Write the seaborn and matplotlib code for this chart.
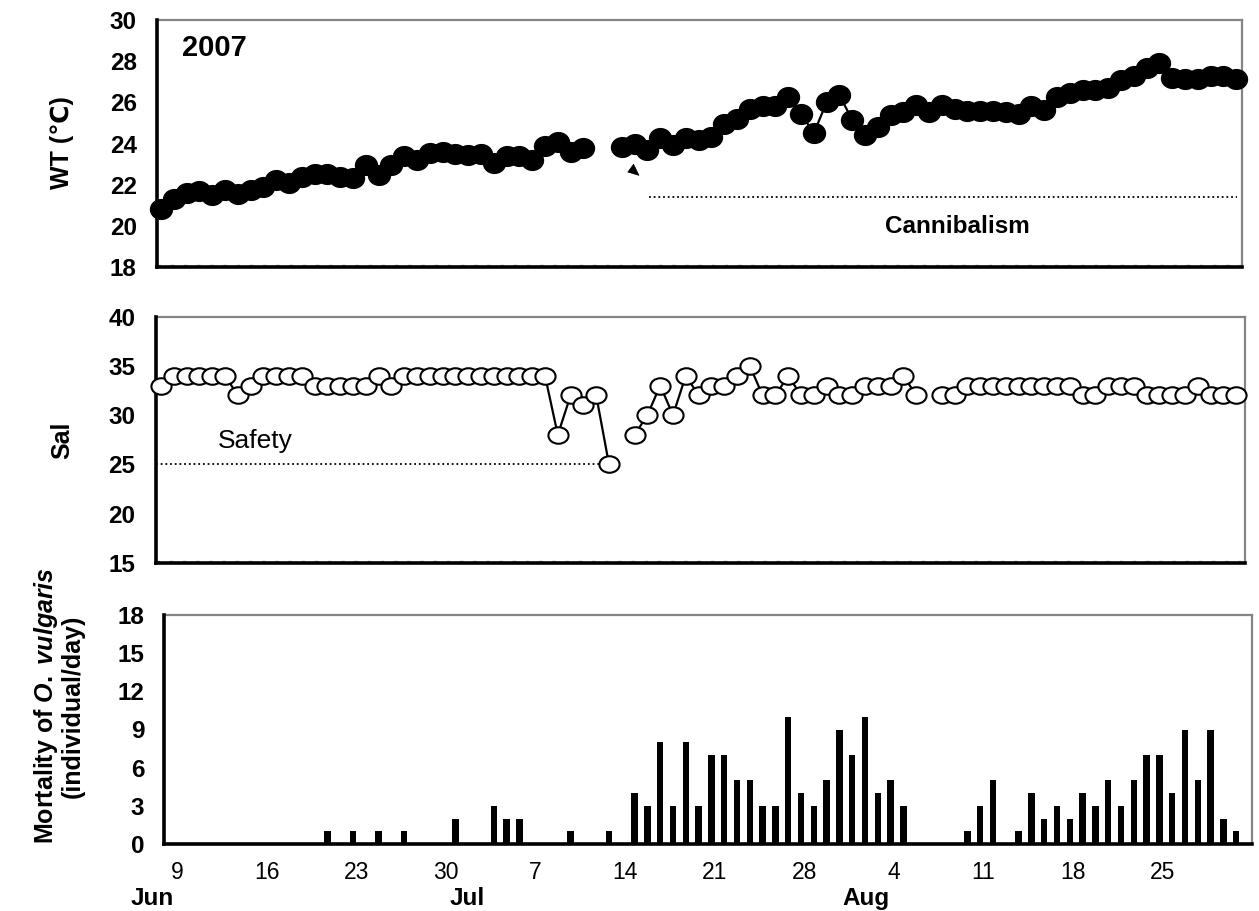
import numpy as np
import pandas as pd
import matplotlib
matplotlib.use("Agg")
import matplotlib.pyplot as plt
import matplotlib.transforms as mtransforms
from matplotlib.path import Path
from matplotlib.ticker import FixedLocator, FixedFormatter, NullFormatter
import seaborn as sns

# ---------------------------------------------------------------- data
dates = pd.date_range("2007-06-08", "2007-08-31", freq="D")

# water temperature (deg C), daily; NaN = no record
wt = [20.8, 21.3, 21.6, 21.7, 21.5, 21.75, 21.55, 21.75, 21.9, 22.25,
      22.1, 22.35, 22.5, 22.5, 22.35, 22.3, 22.95, 22.45, 22.95, 23.4,
      23.2, 23.55, 23.6, 23.5, 23.45, 23.5, 23.05, 23.4, 23.4, 23.2,
      23.9, 24.05, 23.6, 23.8, np.nan, np.nan, 23.85, 24.0, 23.7, 24.25,
      23.95, 24.25, 24.15, 24.3, 24.95, 25.2, 25.7, 25.8, 25.8, 26.25,
      25.45, 24.5, 26.0, 26.35, 25.15, 24.4, 24.8, 25.4, 25.55, 25.85,
      25.55, 25.85, 25.7, 25.6, 25.6, 25.6, 25.55, 25.45, 25.8, 25.65,
      26.25, 26.45, 26.6, 26.6, 26.7, 27.1, 27.3, 27.65, 27.9, 27.2,
      27.15, 27.15, 27.3, 27.3, 27.15]

# salinity, daily
sal = [33, 34, 34, 34, 34, 34, 32, 33, 34, 34,
       34, 34, 33, 33, 33, 33, 33, 34, 33, 34,
       34, 34, 34, 34, 34, 34, 34, 34, 34, 34,
       34, 28, 32, 31, 32, 25, np.nan, 28, 30, 33,
       30, 34, 32, 33, 33, 34, 35, 32, 32, 34,
       32, 32, 33, 32, 32, 33, 33, 33, 34, 32,
       np.nan, 32, 32, 33, 33, 33, 33, 33, 33, 33,
       33, 33, 32, 32, 33, 33, 33, 32, 32, 32,
       32, 33, 32, 32, 32]

# mortality of O. vulgaris (individual/day)
mortality = [0, 0, 0, 0, 0, 0, 0, 0, 0, 0,
             0, 0, 0, 1, 0, 1, 0, 1, 0, 1,
             0, 0, 0, 2, 0, 0, 3, 2, 2, 0,
             0, 0, 1, 0, 0, 1, 0, 4, 3, 8,
             3, 8, 3, 7, 7, 5, 5, 3, 3, 10,
             4, 3, 5, 9, 7, 10, 4, 5, 3, 0,
             0, 0, 0, 1, 3, 5, 0, 1, 4, 2,
             3, 2, 4, 3, 5, 3, 5, 7, 7, 4,
             9, 5, 9, 2, 1]

wt_ticks = [18, 20, 22, 24, 26, 28, 30]
sal_ticks = [15, 20, 25, 30, 35, 40]
mort_ticks = [0, 3, 6, 9, 12, 15, 18]

cannibalism_wt = 21.4
cannibalism_from = pd.Timestamp("2007-07-16")
safety_sal = 25
safety_until = pd.Timestamp("2007-07-12 16:00")

# ---------------------------------------------------------------- frames
day = (dates - dates[0]).days.to_numpy().astype(float)


def with_segments(values, name):
    v = pd.Series(values, dtype=float)
    seg = v.isna().cumsum()
    df = pd.DataFrame({"day": day, name: v, "seg": seg})
    return df.dropna()


df_wt = with_segments(wt, "wt")
df_sal = with_segments(sal, "sal")
df_mort = pd.DataFrame({"day": day, "mortality": mortality})

# ---------------------------------------------------------------- style
sns.set_theme(style="white")
FAM = ["Liberation Sans", "DejaVu Sans"]
plt.rcParams["font.family"] = FAM
plt.rcParams["text.color"] = "black"
plt.rcParams["axes.labelcolor"] = "black"
plt.rcParams["xtick.color"] = "black"
plt.rcParams["ytick.color"] = "black"
plt.rcParams["mathtext.fontset"] = "custom"
plt.rcParams["mathtext.it"] = "Liberation Sans:italic:bold"
plt.rcParams["mathtext.rm"] = "Liberation Sans:bold"

W, H = 1259, 911
fig = plt.figure(figsize=(W / 100, H / 100), dpi=100)


def axes_px(left, top, right, bottom):
    return fig.add_axes([left / W, 1 - bottom / H, (right - left) / W,
                         (bottom - top) / H])


ax1 = axes_px(157, 20, 1242, 267)
ax2 = axes_px(155.7, 316.5, 1245, 563)
ax3 = axes_px(164.3, 615, 1252, 844)

X0, DX = 161.0, 12.8   # pixel column of the first day, pixels per day


def xlim_px(ax, left, right):
    ax.set_xlim((left - X0) / DX, (right - X0) / DX)


xlim_px(ax1, 157, 1242)
xlim_px(ax2, 155.7, 1245)
xlim_px(ax3, 164.3, 1252)

# ellipse markers
uc = Path.unit_circle()
ell_wt = Path(uc.vertices * np.array([1.0, 0.9]), uc.codes)
ell_sal = Path(uc.vertices * np.array([1.0, 0.82]), uc.codes)

# ---------------------------------------------------------------- WT
sns.lineplot(data=df_wt, x="day", y="wt", units="seg", estimator=None,
             color="black", lw=1.6, marker=ell_wt, ms=15.8, mfc="black",
             mec="black", mew=1, clip_on=False, zorder=4, legend=False,
             ax=ax1)
ax1.set_ylim(18, 30)

# ---------------------------------------------------------------- Sal
sns.lineplot(data=df_sal, x="day", y="sal", units="seg", estimator=None,
             color="black", lw=1.6, marker=ell_sal, ms=14.5, mfc="white",
             mec="black", mew=1.5, clip_on=False, zorder=4, legend=False,
             ax=ax2)
ax2.set_ylim(15, 40)

# ---------------------------------------------------------------- bars
sns.barplot(data=df_mort, x="day", y="mortality", native_scale=True,
            color="black", saturation=1, width=0.5, linewidth=0,
            errorbar=None, ax=ax3)
ax3.set_ylim(0, 18)
xlim_px(ax3, 164.3, 1252)

# ---------------------------------------------------------------- axes cosmetics
for ax in (ax1, ax2, ax3):
    ax.set_xlabel("")
    ax.set_ylabel("")
    for s in ("left", "bottom"):
        ax.spines[s].set_color("black")
        ax.spines[s].set_linewidth(2.6)
        ax.spines[s].set_zorder(3)
    for s in ("top", "right"):
        ax.spines[s].set_color("#858585")
        ax.spines[s].set_linewidth(1.6)
    ax.tick_params(axis="y", which="both", direction="out", color="black",
                   labelcolor="black", width=2, length=8.5, labelsize=17.5,
                   pad=6)

# light dashed trace along the base of the two upper panels
for ax, ybase in ((ax1, 18), (ax2, 15)):
    off = mtransforms.offset_copy(ax.transData, fig=fig, x=0, y=2.2,
                                  units="dots")
    ax.plot(ax.get_xlim(), [ybase, ybase], color="#9a9a9a", lw=1.0,
            dashes=(2.5, 7), transform=off, zorder=2.8, clip_on=False)
    ax.set_xticks([])

# WT axis: labels every 2, tick marks every 3
ax1.yaxis.remove_overlapping_locs = False
ax1.yaxis.set_major_locator(FixedLocator(wt_ticks))
ax1.yaxis.set_major_formatter(FixedFormatter([str(t) for t in wt_ticks]))
ax1.yaxis.set_minor_locator(FixedLocator([18, 21, 24, 27, 30]))
ax1.yaxis.set_minor_formatter(NullFormatter())
ax1.tick_params(axis="y", which="major", length=0, pad=14.5)
ax1.tick_params(axis="y", which="minor", length=8.5, width=2)
for lab in ax1.get_yticklabels():
    lab.set_fontweight("bold")

ax2.set_yticks(sal_ticks)
ax2.set_yticklabels([str(t) for t in sal_ticks], fontweight="bold")
ax3.set_yticks(mort_ticks)
ax3.set_yticklabels([str(t) for t in mort_ticks], fontweight="bold")

# bottom date axis: a tick every day, a label every week
tick_off = (164.3 - X0) / DX
ax3.xaxis.remove_overlapping_locs = False
ax3.xaxis.set_minor_locator(
    FixedLocator((np.arange(len(day) + 1) + tick_off).tolist()))
ax3.xaxis.set_minor_formatter(NullFormatter())
week_idx = np.arange(1, len(day), 7)
ax3.xaxis.set_major_locator(FixedLocator((week_idx + tick_off).tolist()))
ax3.xaxis.set_major_formatter(
    FixedFormatter([str(dates[i].day) for i in week_idx]))
ax3.tick_params(axis="x", which="both", direction="out", color="black",
                labelcolor="black", width=2, length=7.5, labelsize=16.5,
                pad=5)

# month names under the day numbers
trans3 = mtransforms.blended_transform_factory(ax3.transData, ax3.transAxes)
for mname, first, shift in (("Jun", "2007-06-08", -0.7),
                            ("Jul", "2007-07-01", 0.9),
                            ("Aug", "2007-08-01", 1.1)):
    d = (pd.Timestamp(first) - dates[0]).days
    ax3.text(d + shift, -0.24, mname, transform=trans3, ha="center",
             va="center", fontsize=17.5, fontweight="bold", color="black")

# ---------------------------------------------------------------- annotations
cx = (cannibalism_from - dates[0]).days + 0.1
ax1.hlines(cannibalism_wt, cx, day[-1] + 0.1, colors="black", lw=1.3,
           linestyles=(0, (1, 1.6)))
ax1.text(0.738, 0.162, "Cannibalism", transform=ax1.transAxes, ha="center",
         va="center", fontsize=17.5, fontweight="bold", color="black")
ax1.text(0.0525, 0.885, "2007", transform=ax1.transAxes, ha="center",
         va="center", fontsize=21, fontweight="bold", color="black")

# small arrowhead marking the onset
head = Path([(0.1, 6.2), (-5.6, -1.5), (5.4, -4.8), (0.1, 6.2)],
            [Path.MOVETO, Path.LINETO, Path.LINETO, Path.CLOSEPOLY])
ax1.plot([(cannibalism_from - dates[0]).days - 1.1], [22.69], marker=head,
         ms=9, color="black", mec="black", mew=0.5, ls="none")

sx = (safety_until - dates[0]).days + (safety_until.hour / 24)
ax2.hlines(safety_sal, ax2.get_xlim()[0], sx, colors="black", lw=1.3,
           linestyles=(0, (1, 1.6)))
ax2.text(0.0912, 0.495, "Safety", transform=ax2.transAxes, ha="center",
         va="center", fontsize=19, color="black")

# ---------------------------------------------------------------- y labels
fig.text(62 / W, 1 - 143 / H, "WT (\u2103)", rotation=90, ha="center",
         va="center", fontsize=18, fontweight="bold", family=FAM,
         color="black")
fig.text(62 / W, 1 - 440 / H, "Sal", rotation=90, ha="center", va="center",
         fontsize=18, fontweight="bold", color="black")
fig.text(58 / W, 1 - 706 / H,
         "Mortality of $\\it{O.\\ vulgaris}$\n(individual/day)",
         rotation=90, ha="center", va="center", fontsize=18,
         fontweight="bold", linespacing=1.05, multialignment="center",
         color="black")

fig.savefig("out.png", dpi=100, facecolor="white")
